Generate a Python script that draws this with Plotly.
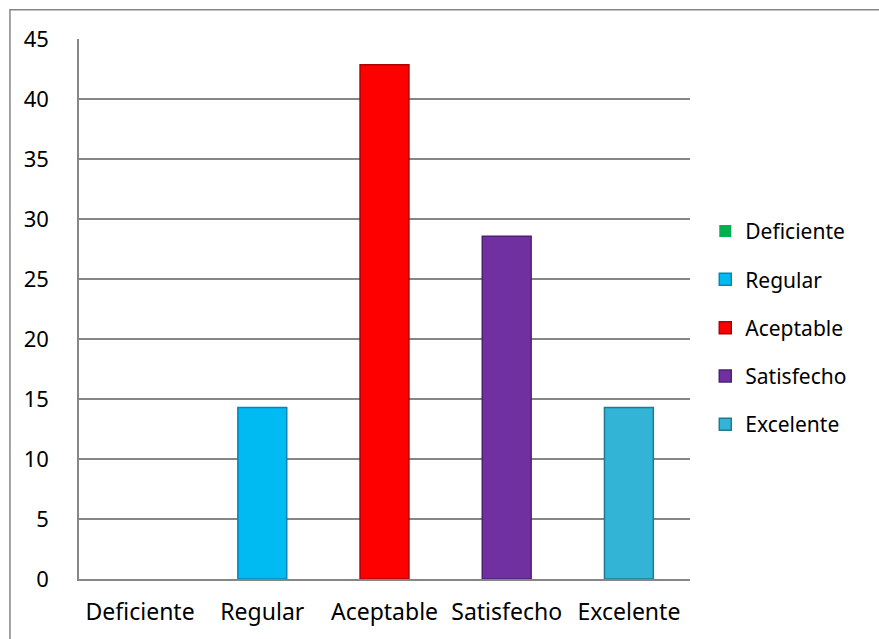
import plotly.graph_objects as go

categories = ["Deficiente", "Regular", "Aceptable", "Satisfecho", "Excelente"]
values = [0, 14.29, 42.86, 28.57, 14.29]
colors = ["#00B050", "#00BAF2", "#FF0000", "#7030A0", "#31B4D6"]
edge_colors = ["#007A38", "#0088B8", "#B00000", "#4E1F74", "#1F7A93"]
y_ticks = [0, 5, 10, 15, 20, 25, 30, 35, 40, 45]

FONT = "Noto Sans"

fig = go.Figure()
for cat, val, col, edge in zip(categories, values, colors, edge_colors):
    fig.add_trace(go.Bar(
        x=[cat], y=[val], name=cat,
        legendgroup=cat,
        marker=dict(color=col, line=dict(color=edge, width=1.5 if val > 0 else 0)),
        width=0.4,
    ))

fig.update_layout(
    width=879, height=639,
    barmode="overlay",
    plot_bgcolor="white", paper_bgcolor="white",
    margin=dict(l=79, r=189, t=39, b=60),
    font=dict(family=FONT, size=22, color="black"),
    showlegend=True,
    legend=dict(x=1.025, xanchor="left", y=0.465, yanchor="middle",
                font=dict(size=21), tracegroupgap=18,
                itemwidth=30),
    xaxis=dict(categoryorder="array", categoryarray=categories,
               showline=True, linecolor="#868686", linewidth=1.5,
               showgrid=False, ticks="", ticklabelstandoff=12,
               automargin=False, tickfont=dict(size=23)),
    yaxis=dict(range=[0, 45], tickvals=y_ticks,
               showline=True, linecolor="#868686", linewidth=1.5,
               showgrid=True, gridcolor="#868686", gridwidth=1.5,
               zeroline=False, ticks="", ticklabelstandoff=24,
               automargin=False, tickfont=dict(size=22)),
    shapes=[dict(type="rect", xref="paper", yref="paper",
                 x0=-0.113, x1=1.6, y0=-0.3, y1=1.054,
                 line=dict(color="#868686", width=1.5), layer="below")],
)

# drop the default page margin so the figure sits at the window corner
fig.write_html("out.html", config={"displayModeBar": False},
               post_script="document.body.style.margin='0';")
